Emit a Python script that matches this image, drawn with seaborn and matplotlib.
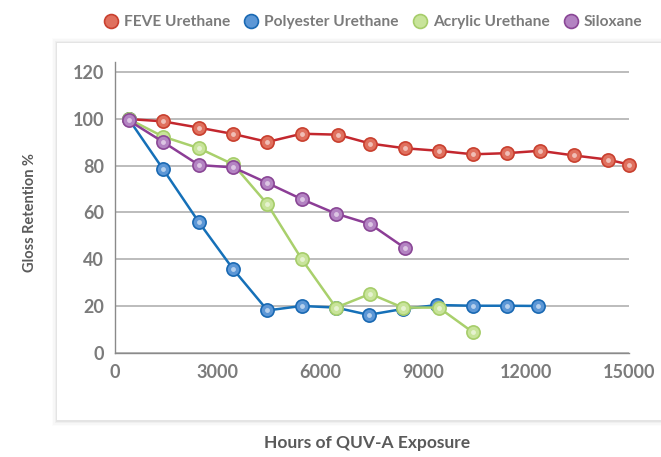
import matplotlib
matplotlib.use("Agg")
import matplotlib.pyplot as plt
from matplotlib.lines import Line2D
from matplotlib.patches import Rectangle
import seaborn as sns
import pandas as pd

# Gloss retention (%) vs hours of QUV-A exposure
feve_hours = [400, 1400, 2450, 3450, 4450, 5450, 6500, 7450, 8450, 9450,
              10450, 11450, 12400, 13400, 14400, 15000]
feve_gloss = [100, 99, 96.3, 93.6, 90.2, 93.7, 93.3, 89.5, 87.5, 86.4,
              84.9, 85.4, 86.4, 84.4, 82.6, 80.5]

poly_hours = [400, 1400, 2450, 3450, 4450, 5450, 6450, 7400, 8400, 9400,
              10450, 11450, 12350]
poly_gloss = [100, 78.6, 55.8, 35.7, 18.1, 20, 19.3, 16.2, 18.7, 20.4,
              20.1, 20.1, 20]

acry_hours = [400, 1400, 2450, 3450, 4450, 5450, 6450, 7450, 8400, 9450, 10450]
acry_gloss = [100, 92.5, 87.5, 80.6, 63.5, 40, 19.3, 25.2, 19.3, 19.3, 8.7]

silo_hours = [400, 1400, 2450, 3450, 4450, 5450, 6450, 7450, 8450]
silo_gloss = [99.4, 90.2, 80.3, 79.3, 72.6, 65.7, 59.5, 55, 44.9]

series_names = ["FEVE Urethane", "Polyester Urethane", "Acrylic Urethane", "Siloxane"]
line_colors = ["#c3272e", "#1570b8", "#a9d06c", "#8c3d96"]
face_colors = ["#e0705e", "#5c97d6", "#c8e49a", "#b383c2"]
edge_colors = ["#c9402f", "#1a69b3", "#a6cd6a", "#8a4796"]

frames = []
for name, hrs, vals in [(series_names[0], feve_hours, feve_gloss),
                        (series_names[1], poly_hours, poly_gloss),
                        (series_names[2], acry_hours, acry_gloss),
                        (series_names[3], silo_hours, silo_gloss)]:
    frames.append(pd.DataFrame({"hours": hrs, "gloss": vals, "coating": name}))
df = pd.concat(frames, ignore_index=True)

sns.set_style("white")
plt.rcParams["font.family"] = ["Lato", "DejaVu Sans"]

fig = plt.figure(figsize=(6.61, 4.57), dpi=100)

# white panel with soft shadow, kept behind the axes
for i, a in enumerate([0.045, 0.03, 0.02, 0.012]):
    d = (i + 1) * 1.2
    fig.patches.append(Rectangle(((57 - d) / 661, (457 - 421 - d) / 457),
                                 1.2, (421 - 43 + 2 * d) / 457,
                                 transform=fig.transFigure, facecolor="black",
                                 alpha=a, edgecolor="none", zorder=-10))
fig.patches.append(Rectangle((57 / 661, (457 - 420) / 457), 1.0, (420 - 43) / 457,
                             transform=fig.transFigure, facecolor="white",
                             edgecolor="none", zorder=-9))

# axes top sits a little above the 120 gridline, as the left spine does
ax = fig.add_axes([115 / 661, 1 - 352.7 / 457, 514 / 661, 290.7 / 457])
ax.set_facecolor("none")

for i, name in enumerate(series_names):
    sub = df[df["coating"] == name]
    sns.lineplot(data=sub, x="hours", y="gloss", ax=ax, color=line_colors[i],
                 linewidth=1.8, marker="o", markersize=9.5,
                 markerfacecolor=face_colors[i], markeredgecolor=edge_colors[i],
                 markeredgewidth=1.2, legend=False, zorder=3 + i,
                 clip_on=False)
    # highlight for the glossy bead look
    ax.plot(sub["hours"], sub["gloss"], linestyle="none", marker="o",
            markersize=3.5, markerfacecolor="white", markeredgecolor="none",
            alpha=0.55, zorder=3 + i, clip_on=False)

ax.set_xlim(0, 15000)
ax.set_ylim(0, 124.4)
ax.set_xticks(range(0, 15001, 3000))
ax.set_xticks(range(0, 15001, 1000), minor=True)
ax.set_yticks(range(0, 121, 20))
ax.yaxis.grid(True, color="#a9a9a9", linewidth=1.1)
ax.set_axisbelow(True)
for s in ["top", "right"]:
    ax.spines[s].set_visible(False)
for s in ["left", "bottom"]:
    ax.spines[s].set_color("#8a8a8a")
    ax.spines[s].set_linewidth(1.0)

ax.tick_params(axis="y", which="major", direction="inout", length=8, width=1,
               color="#8a8a8a", labelsize=13, labelcolor="#7b7b7b", pad=4)
ax.tick_params(axis="x", which="both", direction="out", length=4, width=1,
               color="#8a8a8a", labelsize=13, labelcolor="#7b7b7b", pad=4)
for lab in ax.get_xticklabels() + ax.get_yticklabels():
    lab.set_fontweight("bold")
ax.set_xlabel("")
ax.set_ylabel("")

fig.text(30 / 661, 1 - 213 / 457, "Gloss Retention %", rotation=90,
         ha="center", va="center", fontsize=10.5, fontweight="bold", color="#5a5a5a")
fig.text(367 / 661, 1 - 443 / 457, "Hours of QUV-A Exposure",
         ha="center", va="center", fontsize=12.5, fontweight="bold", color="#5a5a5a")

handles = [Line2D([], [], linestyle="none", marker="o", markersize=10,
                  markerfacecolor=face_colors[i], markeredgecolor=edge_colors[i],
                  markeredgewidth=1.2) for i in range(4)]
leg = fig.legend(handles, series_names, loc="center right",
                 bbox_to_anchor=(652 / 661, 1 - 22 / 457), ncol=4, frameon=False,
                 handletextpad=0.25, columnspacing=0.75, handlelength=1.2,
                 borderaxespad=0.2,
                 prop={"family": "Lato", "weight": "bold", "size": 11.2})
for t in leg.get_texts():
    t.set_color("#7b7b7b")

fig.savefig("out.png", dpi=100)
